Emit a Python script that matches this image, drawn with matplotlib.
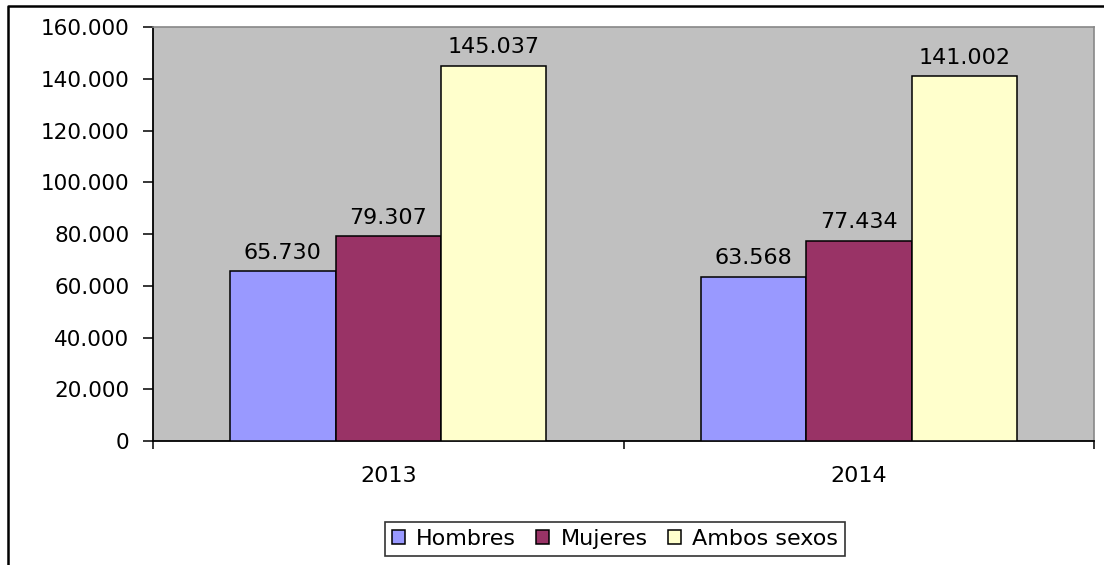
import matplotlib.pyplot as plt
import matplotlib.ticker as mt
from matplotlib.lines import Line2D
import numpy as np

years = ["2013", "2014"]
series = ["Hombres", "Mujeres", "Ambos sexos"]
hombres = [65730, 63568]
mujeres = [79307, 77434]
ambos = [145037, 141002]
colors = ["#9999FF", "#993366", "#FFFFCC"]

plt.rcParams["font.family"] = ["DejaVu Sans"]

def miles(v, pos=None):
    return f"{v:,.0f}".replace(",", ".")

fig = plt.figure(figsize=(11.04, 5.65), dpi=100)
ax = fig.add_axes([0.1386, 0.2195, 0.8524, 0.7325])
ax.set_facecolor("#C0C0C0")

x = np.arange(len(years))
w = 0.224
for i, (name, vals) in enumerate(zip(series, (hombres, mujeres, ambos))):
    pos = x + (i - 1) * w
    ax.bar(pos, vals, width=w, color=colors[i], edgecolor="black",
           linewidth=1.1, label=name, zorder=3)
    for px, v in zip(pos, vals):
        ax.annotate(miles(v), (px, v), xytext=(0, 6), textcoords="offset points",
                    ha="center", va="bottom", fontsize=16, color="black")

ax.set_ylim(0, 160000)
ax.set_xlim(-0.5, 1.5)
ax.yaxis.set_major_locator(mt.MultipleLocator(20000))
ax.yaxis.set_major_formatter(mt.FuncFormatter(miles))
ax.tick_params(axis="y", direction="out", length=7, width=1.1, pad=10, labelsize=15.5)

ax.set_xticks(x)
ax.set_xticklabels(years)
ax.set_xticks([-0.5, 0.5, 1.5], minor=True)
ax.tick_params(axis="x", which="major", length=0, pad=18, labelsize=16)
ax.tick_params(axis="x", which="minor", direction="out", length=6, width=1.1)

for s in ("left", "bottom"):
    ax.spines[s].set_color("black")
    ax.spines[s].set_linewidth(1.3)
for s in ("top", "right"):
    ax.spines[s].set_color("#888888")
    ax.spines[s].set_linewidth(1.2)

leg = fig.legend(loc="center", bbox_to_anchor=(0.557, 0.046), ncol=3,
                 fontsize=16, frameon=True, fancybox=False, edgecolor="black",
                 handlelength=0.6, handleheight=0.6, handletextpad=0.5,
                 columnspacing=0.9, borderpad=0.3, borderaxespad=0.3)
leg.get_frame().set_linewidth(1.2)

# borde del grafico (arriba y a la izquierda)
fig.add_artist(Line2D([8 / 1104, 8 / 1104, 1.0], [0.0, 1 - 6 / 565, 1 - 6 / 565],
                      transform=fig.transFigure, color="black", linewidth=1.8))

fig.savefig("out.png", dpi=100)
